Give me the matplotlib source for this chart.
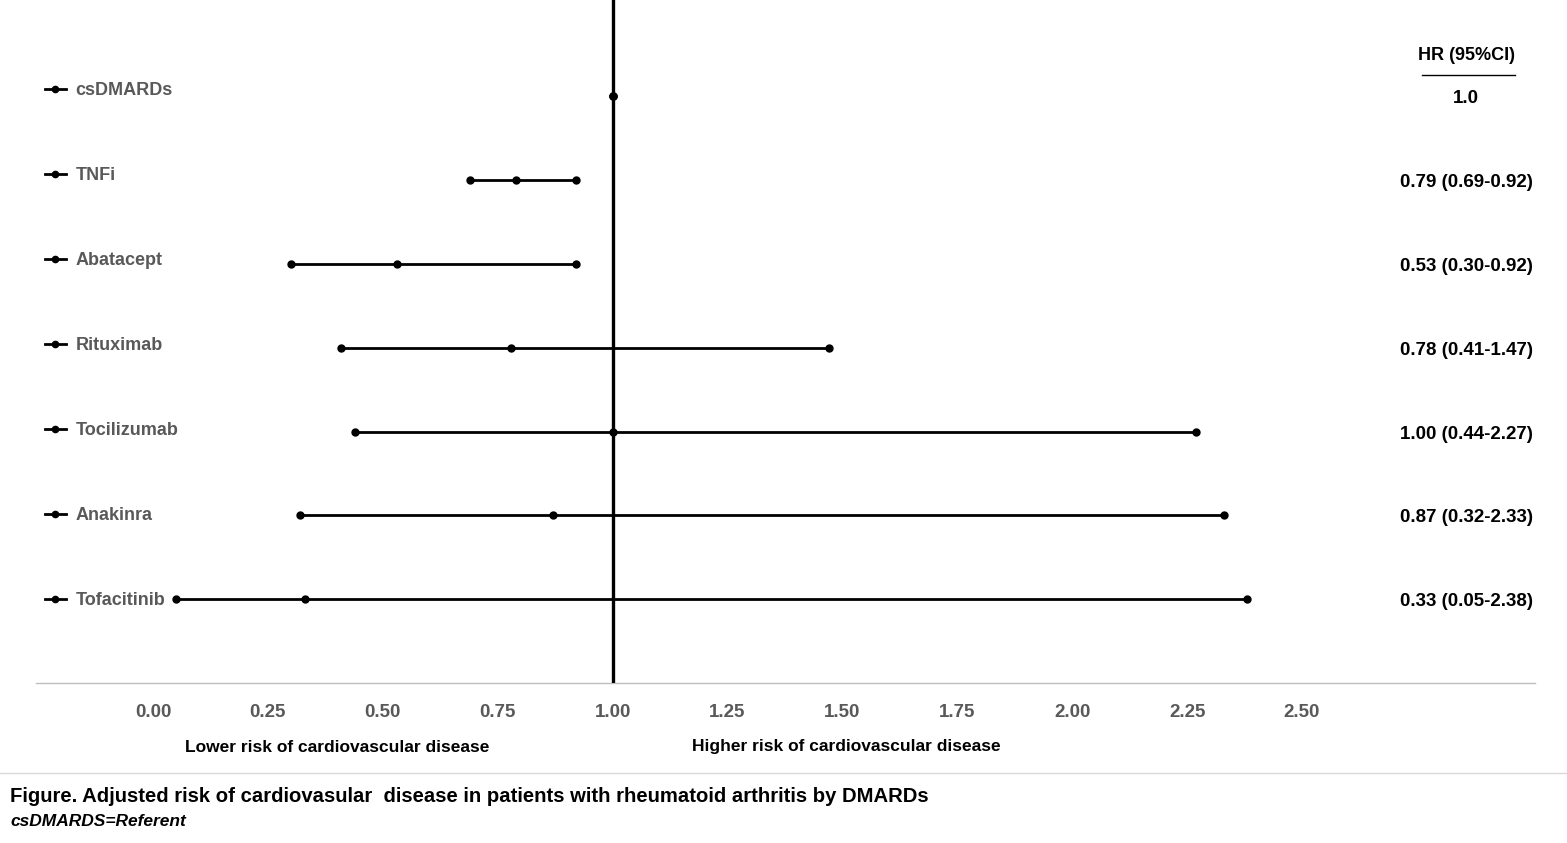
import matplotlib.pyplot as plt
import matplotlib.transforms as mtransforms
from matplotlib.lines import Line2D

plt.rcParams["font.family"] = ["Liberation Sans", "DejaVu Sans"]
plt.rcParams["font.weight"] = "bold"

drugs = ["csDMARDs", "TNFi", "Abatacept", "Rituximab", "Tocilizumab", "Anakinra", "Tofacitinib"]
hr = [1.00, 0.79, 0.53, 0.78, 1.00, 0.87, 0.33]
lower = [1.00, 0.69, 0.30, 0.41, 0.44, 0.32, 0.05]
upper = [1.00, 0.92, 0.92, 1.47, 2.27, 2.33, 2.38]
hr_text = ["1.0", "0.79 (0.69-0.92)", "0.53 (0.30-0.92)", "0.78 (0.41-1.47)",
           "1.00 (0.44-2.27)", "0.87 (0.32-2.33)", "0.33 (0.05-2.38)"]
xticks = [0.0, 0.25, 0.5, 0.75, 1.0, 1.25, 1.5, 1.75, 2.0, 2.25, 2.5]

W, H = 1567, 843
fig = plt.figure(figsize=(W / 100, H / 100), dpi=100)
ax = fig.add_axes([36 / W, 1 - 683 / H, (1535 - 36) / W, 683 / H])
trans = mtransforms.blended_transform_factory(fig.transFigure, ax.transData)

n = len(drugs)
for i, name in enumerate(drugs):
    y = n - i
    xs = [lower[i], hr[i], upper[i]]
    ax.plot(xs, [y] * 3, color="black", lw=2, marker="o", ms=5, label=name,
            zorder=3)
    ax.text(1466 / W, y - 0.03, hr_text[i], transform=trans,
            ha="center", va="center", fontsize=13.5, color="black")

ax.axvline(1.0, color="black", lw=2.4, zorder=4)
ax.set_xlim((36 - 153) / 459.6, (1535 - 153) / 459.6)
ax.set_ylim(0, 8.15)
ax.set_xticks(xticks)
ax.set_xticklabels([f"{t:.2f}" for t in xticks], color="#595959", fontsize=13.5,
                   fontweight="bold")
ax.tick_params(axis="x", length=0, pad=15)
ax.set_yticks([])
for s in ["top", "left", "right"]:
    ax.spines[s].set_visible(False)
ax.spines["bottom"].set_color("#bfbfbf")
ax.spines["bottom"].set_linewidth(1)

leg = ax.legend(loc="upper left", bbox_to_anchor=(45 / W, 1 - 82 / H),
                bbox_transform=fig.transFigure, frameon=False, fontsize=13,
                handlelength=1.15, handletextpad=0.55, labelspacing=3.77,
                borderaxespad=0, borderpad=0, markerscale=0.9)
for t in leg.get_texts():
    t.set_color("#595959")
    t.set_fontweight("bold")

fig.text(1467 / W, 1 - 56 / H, "HR (95%CI)", ha="center", va="center", fontsize=13)
fig.add_artist(Line2D([1422 / W, 1515 / W], [1 - 75 / H, 1 - 75 / H], color="black", lw=1))

fig.text(337 / W, 1 - 748 / H, "Lower risk of cardiovascular disease", ha="center",
         va="center", fontsize=12.5)
fig.text(846 / W, 1 - 746 / H, "Higher risk of cardiovascular disease", ha="center",
         va="center", fontsize=12.5)

fig.add_artist(Line2D([0, 1], [1 - 773 / H, 1 - 773 / H], color="#d9d9d9", lw=1))
fig.text(10 / W, 1 - 796 / H,
         "Figure. Adjusted risk of cardiovasular  disease in patients with rheumatoid arthritis by DMARDs",
         ha="left", va="center", fontsize=14.6)
fig.text(10 / W, 1 - 822 / H, "csDMARDS=Referent", ha="left", va="center",
         fontsize=12.5, style="italic")

fig.savefig("out.png", dpi=100)
